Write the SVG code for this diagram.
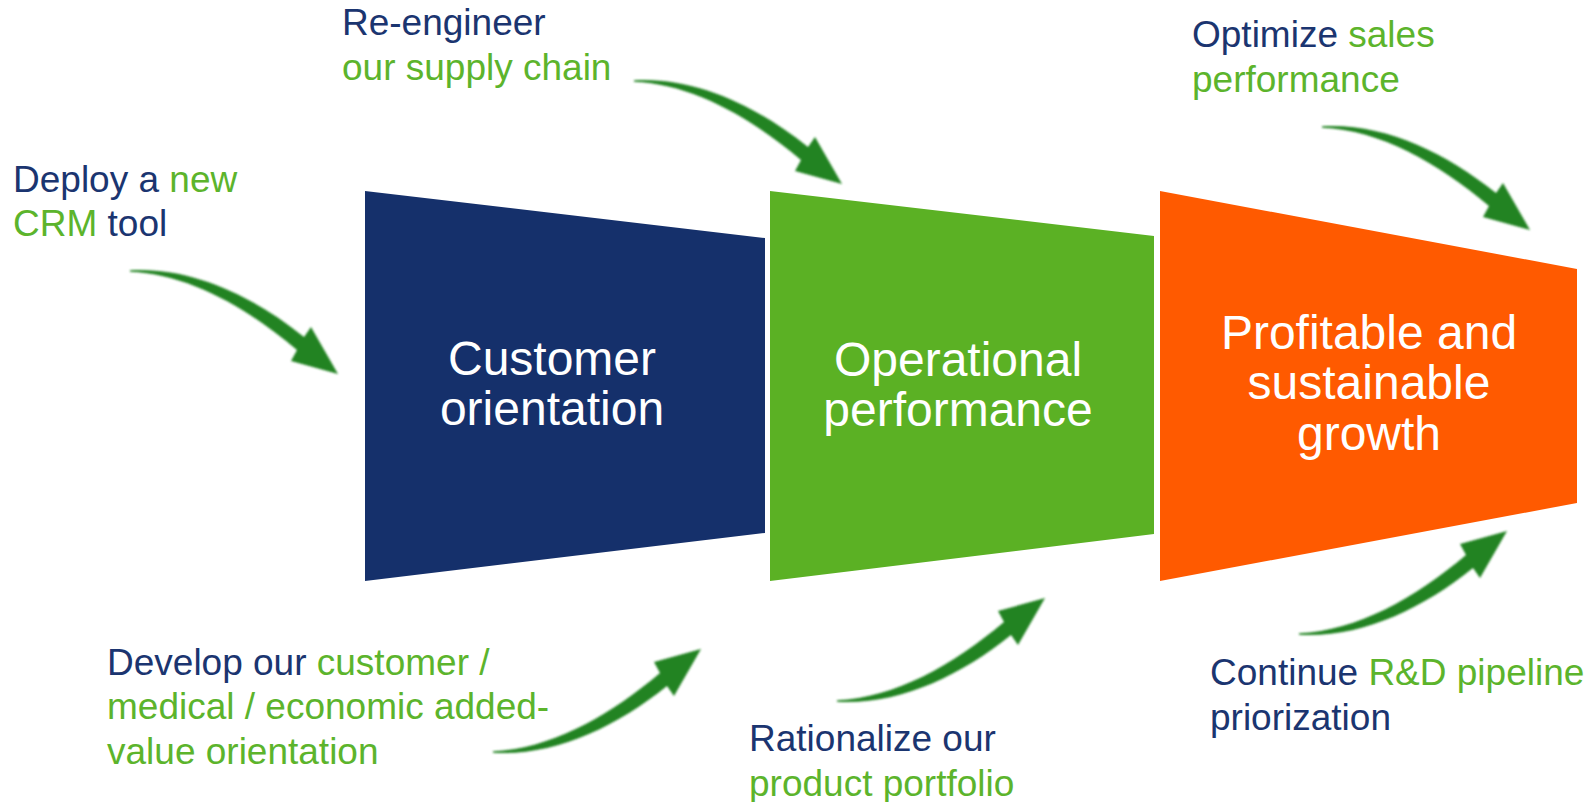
<svg xmlns="http://www.w3.org/2000/svg" width="1596" height="802" viewBox="0 0 1596 802">
<defs>
<style>
.lbl{font-family:"Liberation Sans",Arial,sans-serif;font-size:37px;fill:#1b3570}
.g{fill:#5cb42c}
.big{font-family:"Liberation Sans",Arial,sans-serif;font-size:48px;fill:#ffffff;text-anchor:middle}
.arr{fill:#228322;filter:url(#soft)}
</style>
<filter id="soft" x="-10%" y="-10%" width="120%" height="120%"><feGaussianBlur stdDeviation="0.9"/></filter>
<path id="arrow" d="M0,-0.8 C60,-4.5 122,24 174,66 L181,56 L208,103 L161,90 L167,79 C116,36 58,3 0,0.8 Z"/>
</defs>
<rect width="1596" height="802" fill="#ffffff"/>
<g id="node-customer">
<polygon points="365,191 765,238 765,533 365,581" fill="#15306b"/>
<text class="big"><tspan x="552" y="375">Customer</tspan><tspan x="552" y="425">orientation</tspan></text>
</g>
<g id="node-operational">
<polygon points="770,191 1154,236 1154,534 770,581" fill="#5bb124"/>
<text class="big"><tspan x="958" y="376">Operational</tspan><tspan x="958" y="426">performance</tspan></text>
</g>
<g id="node-growth">
<polygon points="1160,191 1577,269 1577,503 1160,581" fill="#ff5a00"/>
<text class="big"><tspan x="1369" y="349">Profitable and</tspan><tspan x="1369" y="399">sustainable</tspan><tspan x="1369" y="450">growth</tspan></text>
</g>
<g id="connectors">
<use href="#arrow" class="arr" transform="translate(130,271)"/>
<use href="#arrow" class="arr" transform="translate(634,81)"/>
<use href="#arrow" class="arr" transform="translate(1322,127)"/>
<use href="#arrow" class="arr" transform="translate(493,752) scale(1,-1)"/>
<use href="#arrow" class="arr" transform="translate(837,701) scale(1,-1)"/>
<use href="#arrow" class="arr" transform="translate(1299,634) scale(1,-1)"/>
</g>
<g id="label-crm">
<text class="lbl"><tspan x="13" y="192">Deploy a <tspan class="g">new</tspan></tspan><tspan x="13" y="236"><tspan class="g">CRM</tspan> tool</tspan></text>
</g>
<g id="label-supply">
<text class="lbl"><tspan x="342" y="35">Re-engineer</tspan><tspan class="g" x="342" y="80">our supply chain</tspan></text>
</g>
<g id="label-sales">
<text class="lbl"><tspan x="1192" y="47">Optimize <tspan class="g">sales</tspan></tspan><tspan class="g" x="1192" y="92">performance</tspan></text>
</g>
<g id="label-develop">
<text class="lbl"><tspan x="107" y="675">Develop our <tspan class="g">customer /</tspan></tspan><tspan class="g" x="107" y="719">medical / economic added-</tspan><tspan class="g" x="107" y="764">value orientation</tspan></text>
</g>
<g id="label-rationalize">
<text class="lbl"><tspan x="749" y="751">Rationalize our</tspan><tspan class="g" x="749" y="796">product portfolio</tspan></text>
</g>
<g id="label-rd">
<text class="lbl"><tspan x="1210" y="685">Continue <tspan class="g">R&amp;D pipeline</tspan></tspan><tspan x="1210" y="730">priorization</tspan></text>
</g>
</svg>
